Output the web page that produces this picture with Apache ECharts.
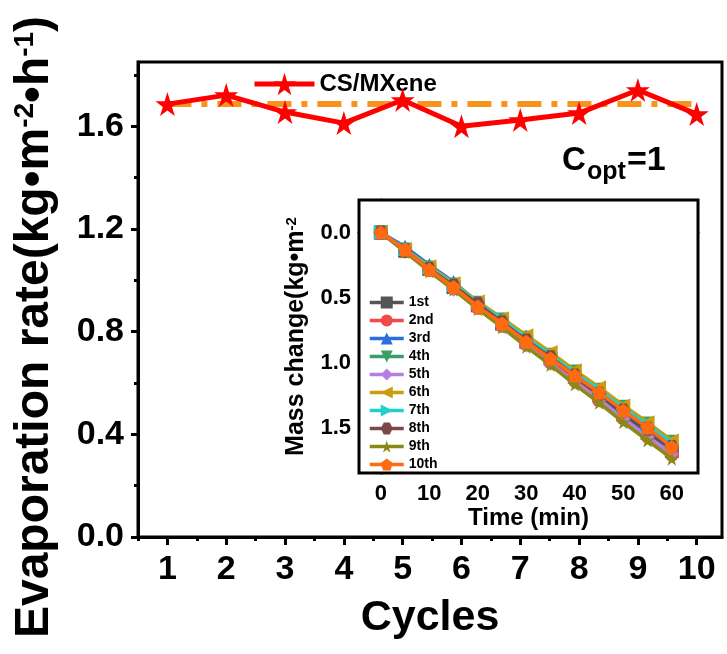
<!DOCTYPE html>
<html>
<head>
<meta charset="utf-8">
<script src="https://cdn.jsdelivr.net/npm/echarts@6/dist/echarts.min.js"></script>
<style>
  html, body { margin: 0; padding: 0; background: #fff; }
  #chart { width: 727px; height: 654px; }
</style>
</head>
<body>
<div id="chart"></div>
<script>
const FONT = '"Liberation Sans", Arial, sans-serif';

// main plot
const cycles = [1, 2, 3, 4, 5, 6, 7, 8, 9, 10];
const evapRate = [1.686, 1.721, 1.655, 1.612, 1.702, 1.600, 1.624, 1.651, 1.741, 1.647];
const refRate = 1.686;
const yTicks = [0, 0.4, 0.8, 1.2, 1.6];
const yMinor = [0.2, 0.6, 1.0, 1.4, 1.8];
const xMinor = [0.5, 1.5, 2.5, 3.5, 4.5, 5.5, 6.5, 7.5, 8.5, 9.5];

// inset
const times = [0, 5, 10, 15, 20, 25, 30, 35, 40, 45, 50, 55, 60];
const insetXTicks = [0, 10, 20, 30, 40, 50, 60];
const insetYTicks = [0, 0.5, 1.0, 1.5];
const runNames = ['1st', '2nd', '3rd', '4th', '5th', '6th', '7th', '8th', '9th', '10th'];
const run1 = [0, 0.14, 0.28, 0.42, 0.56, 0.70, 0.84, 0.97, 1.11, 1.25, 1.40, 1.54, 1.68];
const run2 = [0, 0.14, 0.29, 0.43, 0.58, 0.72, 0.86, 1.00, 1.14, 1.29, 1.43, 1.57, 1.71];
const run3 = [0, 0.11, 0.25, 0.38, 0.54, 0.67, 0.80, 0.95, 1.09, 1.23, 1.37, 1.51, 1.65];
const run4 = [0, 0.13, 0.27, 0.40, 0.54, 0.67, 0.81, 0.94, 1.07, 1.21, 1.34, 1.47, 1.61];
const run5 = [0, 0.15, 0.29, 0.44, 0.58, 0.72, 0.87, 1.01, 1.15, 1.29, 1.43, 1.57, 1.70];
const run6 = [0, 0.13, 0.26, 0.39, 0.53, 0.66, 0.79, 0.92, 1.06, 1.19, 1.33, 1.46, 1.60];
const run7 = [0, 0.13, 0.27, 0.40, 0.54, 0.67, 0.81, 0.94, 1.08, 1.21, 1.35, 1.48, 1.62];
const run8 = [0, 0.14, 0.28, 0.41, 0.55, 0.69, 0.83, 0.96, 1.10, 1.24, 1.37, 1.51, 1.65];
const run9 = [0, 0.15, 0.30, 0.44, 0.59, 0.73, 0.88, 1.02, 1.17, 1.31, 1.46, 1.60, 1.74];
const run10 = [0, 0.13, 0.285, 0.42, 0.57, 0.70, 0.84, 0.97, 1.10, 1.23, 1.37, 1.50, 1.65];
const runs = [run1, run2, run3, run4, run5, run6, run7, run8, run9, run10];

const STAR = 'path://M50,0L61.17,34.63L97.55,34.55L68.07,55.87L79.39,90.45L50,69L20.61,90.45L31.93,55.87L2.45,34.55L38.83,34.63Z';
const HEX = 'path://M25,0L75,0L100,43L75,86L25,86L0,43Z';
const PENT = 'path://M50,0L100,36L81,95L19,95L0,36Z';

const runColors = ['#555555', '#f24a4a', '#2a6fdb', '#3a9e66', '#b47fe0', '#c99d0c', '#22cfcb', '#7b4a45', '#8a8a12', '#ff6a12'];
const runSymbols = ['rect', 'circle', 'triangle', 'triangle', 'diamond', 'triangle', 'triangle', HEX, STAR, PENT];
const runRotate = [0, 0, 0, 180, 0, 90, -90, 0, 0, 0];

const chart = echarts.init(document.getElementById('chart'));

const bold = (size) => ({ fontFamily: FONT, fontWeight: 'bold', fontSize: size, color: '#000' });

const insetSeries = runs.map((r, i) => ({
  name: runNames[i],
  type: 'line',
  xAxisIndex: 2,
  yAxisIndex: 2,
  data: times.map((t, j) => [t, r[j]]),
  symbol: runSymbols[i],
  symbolRotate: runRotate[i],
  symbolSize: 14,
  lineStyle: { width: 3.5, color: runColors[i] },
  itemStyle: { color: runColors[i] },
  z: 10 + i
}));

const option = {
  animation: false,
  backgroundColor: '#fff',
  grid: [
    { left: 138, right: 5, top: 62, bottom: 117, show: true, borderColor: '#000', borderWidth: 3 },
    { left: 359, right: 29, top: 200, bottom: 181, show: true, borderColor: '#000', borderWidth: 3, backgroundColor: '#fff', z: 5 }
  ],
  xAxis: [
    {
      type: 'value', gridIndex: 0, min: 0.5, max: 10.43,
      name: 'Cycles', nameLocation: 'middle', nameGap: 60, nameTextStyle: bold(43),
      axisLine: { lineStyle: { color: '#000', width: 3 } },
      axisTick: { inside: false, length: 8, lineStyle: { width: 3, color: '#000' }, customValues: cycles },
      axisLabel: { ...bold(34), margin: 16, customValues: cycles },
      splitLine: { show: false }
    },
    {
      type: 'value', gridIndex: 0, min: 0.5, max: 10.43, position: 'bottom',
      axisLine: { show: false },
      axisTick: { length: 4, lineStyle: { width: 3, color: '#000' }, customValues: xMinor },
      axisLabel: { show: false },
      splitLine: { show: false }
    },
    {
      type: 'value', gridIndex: 1, min: -4.5, max: 65.4,
      name: 'Time (min)', nameLocation: 'middle', nameGap: 31, nameTextStyle: bold(24),
      axisLine: { lineStyle: { color: '#000', width: 3 } },
      axisTick: { length: 5, lineStyle: { width: 2.5, color: '#000' }, customValues: insetXTicks },
      axisLabel: { ...bold(22), margin: 10, customValues: insetXTicks },
      splitLine: { show: false }
    }
  ],
  yAxis: [
    {
      type: 'value', gridIndex: 0, min: 0, max: 1.85,
      axisLine: { show: true, lineStyle: { color: '#000', width: 3 } },
      axisTick: { show: true, length: 7, lineStyle: { width: 3, color: '#000' }, customValues: yTicks },
      axisLabel: { ...bold(34), margin: 14, formatter: (v) => v.toFixed(1), customValues: yTicks },
      splitLine: { show: false }
    },
    {
      type: 'value', gridIndex: 0, min: 0, max: 1.85, position: 'left',
      axisLine: { show: false },
      axisTick: { show: true, length: 4, lineStyle: { width: 3, color: '#000' }, customValues: yMinor },
      axisLabel: { show: false },
      splitLine: { show: false }
    },
    {
      type: 'value', gridIndex: 1, min: -0.25, max: 1.85, inverse: true,
      name: '{a|Mass change(kg•m}{s|-2}', nameLocation: 'middle', nameGap: 50,
      nameTextStyle: {
        ...bold(25),
        rich: {
          a: bold(25),
          s: { ...bold(15), verticalAlign: 'top' }
        }
      },
      axisLine: { show: true, lineStyle: { color: '#000', width: 3 } },
      axisTick: { show: true, length: 5, lineStyle: { width: 2.5, color: '#000' }, customValues: insetYTicks },
      axisLabel: { ...bold(22), margin: 8, formatter: (v) => v.toFixed(1), customValues: insetYTicks },
      splitLine: { show: false }
    }
  ],
  legend: [
    {
      data: ['CS/MXene'],
      left: 247, top: 67,
      itemWidth: 60, itemHeight: 28,
      lineStyle: { width: 'inherit' },
      textStyle: bold(24)
    },
    {
      data: runNames,
      orient: 'vertical',
      left: 363, top: 290,
      itemWidth: 34, itemHeight: 15, itemGap: 3,
      lineStyle: { width: 'inherit' },
      textStyle: { ...bold(14), lineHeight: 15 },
      z: 20
    }
  ],
  graphic: [
    {
      type: 'text', x: 35, y: 327, rotation: Math.PI / 2,
      style: {
        text: '{a|Evaporation rate(kg•m}{s|-2}{a|•h}{s|-1}{a|)}',
        align: 'center', verticalAlign: 'middle',
        rich: {
          a: { fontFamily: FONT, fontWeight: 'bold', fontSize: 48, fill: '#000' },
          s: { fontFamily: FONT, fontWeight: 'bold', fontSize: 28, fill: '#000', verticalAlign: 'top' }
        }
      }
    },
    {
      type: 'text', x: 562, y: 161,
      style: { text: 'C', fontFamily: FONT, fontWeight: 'bold', fontSize: 33, fill: '#000', align: 'left', verticalAlign: 'middle' }
    },
    {
      type: 'text', x: 587, y: 172,
      style: { text: 'opt', fontFamily: FONT, fontWeight: 'bold', fontSize: 25, fill: '#000', align: 'left', verticalAlign: 'middle' }
    },
    {
      type: 'text', x: 627, y: 161,
      style: { text: '=1', fontFamily: FONT, fontWeight: 'bold', fontSize: 34, fill: '#000', align: 'left', verticalAlign: 'middle' }
    }
  ],
  series: [
    {
      name: 'reference',
      type: 'line',
      xAxisIndex: 0, yAxisIndex: 0,
      data: [[cycles[0], refRate], [cycles[cycles.length - 1], refRate]],
      symbol: 'none',
      lineStyle: { color: '#f7941d', width: 6, type: [24, 10, 6, 10] },
      z: 3
    },
    {
      name: 'CS/MXene',
      type: 'line',
      xAxisIndex: 0, yAxisIndex: 0,
      data: cycles.map((c, i) => [c, evapRate[i]]),
      symbol: STAR,
      symbolSize: 24,
      lineStyle: { color: '#ff0000', width: 5 },
      itemStyle: { color: '#ff0000' },
      z: 4
    },
    ...insetSeries
  ]
};

chart.setOption(option);
</script>
</body>
</html>
